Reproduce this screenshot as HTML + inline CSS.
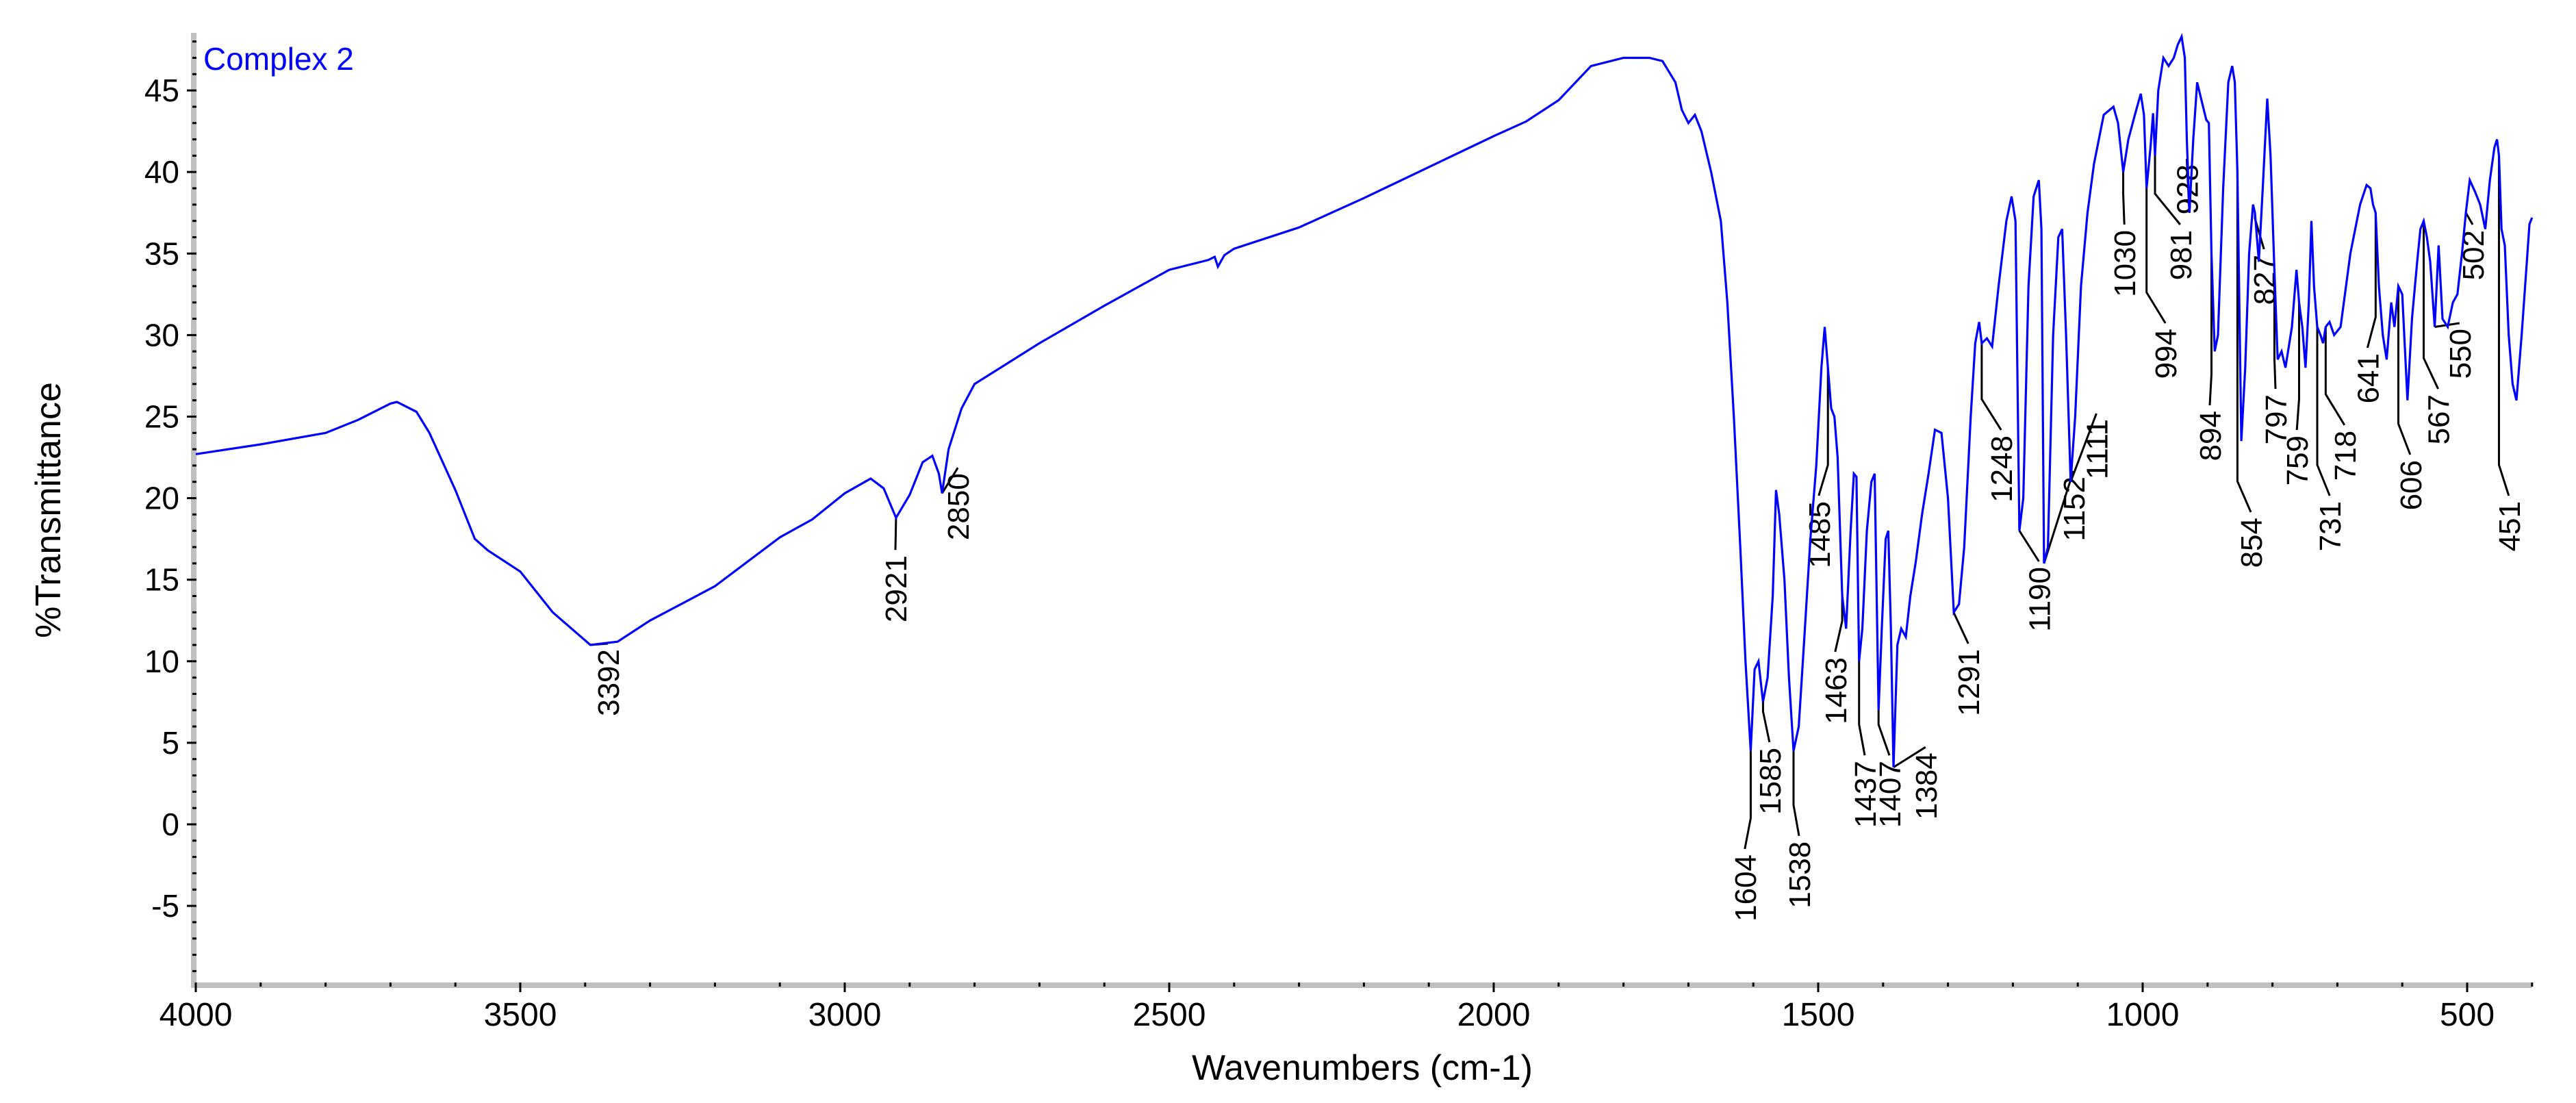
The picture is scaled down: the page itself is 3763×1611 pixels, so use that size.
<!DOCTYPE html>
<html><head><meta charset="utf-8"><style>
html,body{margin:0;padding:0;background:#fff;}
svg{display:block;font-family:"Liberation Sans",Arial,sans-serif;}
</style></head><body>
<svg id="chart" width="3763" height="1611" viewBox="0 0 3763 1611" xmlns="http://www.w3.org/2000/svg">
<rect x="0" y="0" width="3763" height="1611" fill="#fff"/>
<g id="axes"></g>
<g id="annot"></g>
<g id="series"></g>
<text x="297" y="102" font-size="46" fill="#0000ff">Complex 2</text>
<text x="1990" y="1577" font-size="52" text-anchor="middle">Wavenumbers (cm-1)</text>
<text transform="translate(88,745) rotate(-90)" font-size="52" text-anchor="middle">%Transmittance</text>
</svg>
<script>
const wavenumbers = [4000,3900,3800,3750,3700,3690,3660,3640,3600,3570,3550,3500,3450,3392,3350,3300,3200,3100,3050,3000,2960,2940,2921,2900,2880,2865,2855,2850,2840,2820,2800,2700,2600,2500,2440,2430,2425,2415,2400,2300,2200,2100,2000,1950,1900,1850,1800,1760,1740,1720,1710,1700,1690,1680,1665,1650,1640,1630,1620,1612,1604,1598,1592,1585,1578,1570,1565,1560,1552,1545,1538,1530,1522,1512,1503,1495,1490,1485,1480,1475,1470,1463,1457,1450,1445,1441,1437,1432,1425,1418,1413,1407,1402,1396,1392,1388,1384,1378,1372,1365,1358,1350,1340,1330,1320,1310,1300,1291,1283,1275,1265,1258,1252,1248,1240,1232,1222,1210,1202,1196,1190,1184,1176,1168,1160,1156,1152,1146,1138,1130,1124,1118,1111,1104,1095,1085,1075,1060,1045,1038,1030,1022,1012,1003,998,994,988,984,981,976,968,960,952,946,940,935,932,928,922,916,910,902,898,894,889,884,876,868,862,858,854,848,842,836,830,827,821,815,808,803,797,792,786,780,770,763,759,754,749,744,740,736,731,726,722,718,712,705,695,680,665,655,649,645,641,636,630,624,617,612,606,600,592,585,577,572,567,562,557,550,544,538,530,522,515,508,502,496,488,480,472,465,458,454,451,447,442,436,430,424,416,408,404,400];
const transmittance = [22.7,23.3,24.0,24.8,25.8,25.9,25.3,24.0,20.5,17.5,16.8,15.5,13.0,11.0,11.2,12.5,14.6,17.6,18.7,20.3,21.2,20.6,18.8,20.2,22.2,22.6,21.5,20.3,23.0,25.5,27.0,29.5,31.8,34.0,34.6,34.8,34.2,34.9,35.3,36.6,38.4,40.3,42.2,43.1,44.4,46.5,47.0,47.0,46.8,45.5,43.8,43.0,43.5,42.5,40.0,37.0,32.0,25.0,17.0,10.0,4.5,9.5,10.0,7.5,9.0,14.0,20.5,19.0,15.0,9.0,4.5,6.0,11.0,17.5,22.0,28.0,30.5,28.0,25.5,25.0,22.5,14.0,12.0,18.0,21.5,21.3,10.0,12.0,18.0,21.0,21.5,7.0,12.0,17.5,18.0,12.0,3.5,11.0,12.0,11.5,14.0,16.0,19.0,21.5,24.2,24.0,20.0,13.0,13.5,17.0,25.0,29.5,30.8,29.5,29.8,29.3,33.0,37.0,38.5,37.0,18.0,20.0,33.0,38.5,39.5,36.5,16.0,17.0,30.0,36.0,36.5,30.0,21.0,25.0,33.0,37.5,40.5,43.5,44.0,43.0,40.0,42.0,43.5,44.8,43.5,39.0,41.5,43.6,41.0,45.0,47.0,46.5,47.0,47.8,48.3,47.0,42.0,37.5,42.0,45.5,44.5,43.2,43.0,35.0,29.0,30.0,39.0,45.5,46.5,45.5,40.0,23.5,28.0,35.0,38.0,37.5,34.5,39.0,44.5,41.0,34.0,28.5,29.0,28.0,30.5,34.0,32.0,30.5,28.0,32.0,37.0,33.0,30.5,30.0,29.5,30.5,30.8,30.0,30.5,35.0,38.0,39.2,39.0,38.0,37.5,33.0,30.0,28.5,32.0,30.5,33.0,32.5,26.0,31.0,34.5,36.5,37.0,36.0,34.5,30.5,35.5,31.0,30.5,32.0,32.5,35.0,37.5,39.5,38.8,38.0,36.5,39.5,41.5,42.0,41.0,36.5,35.5,30.0,27.0,26.0,30.0,34.5,36.8,37.2,36.5,41.0,43.8,43.5,43.0];
const yTickLabels = ["-5","0","5","10","15","20","25","30","35","40","45"];
const xTickLabels = ["4000","3500","3000","2500","2000","1500","1000","500"];
const peakLabels = [3392,2921,2850,1604,1585,1538,1485,1463,1437,1407,1384,1291,1248,1190,1152,1111,1030,994,981,928,894,854,827,797,759,731,718,641,606,567,550,502,451];
// label layout (thumbnail coordinates x, text-top y) — layout only, not data
const labelLayout = [[370,395],[545,338],[583,288],[1062,520],[1077,455],[1095,512],[1107,305],[1117,400],[1135,463],[1150,463],[1172,458],[1198,395],[1218,265],[1241,345],[1262,290],[1276,255],[1293,140],[1318,200],[1327,140],[1331,100],[1345,250],[1370,315],[1378,155],[1385,240],[1398,265],[1418,305],[1427,262],[1441,215],[1467,280],[1484,240],[1497,200],[1505,140],[1527,305]];

const NS="http://www.w3.org/2000/svg";
const X0=286, XS=0.948, Y0=1204, YS=23.82;
function xPix(w){return X0+(4000-w)*XS;}
function yPix(v){return Y0-v*YS;}
function mk(tag,attrs,parent){const e=document.createElementNS(NS,tag);for(const k in attrs)e.setAttribute(k,attrs[k]);parent.appendChild(e);return e;}
function valAt(w){for(let i=0;i<wavenumbers.length-1;i++){const a=wavenumbers[i],b=wavenumbers[i+1];if(w<=a&&w>=b){const t=(a-w)/(a-b);return transmittance[i]+t*(transmittance[i+1]-transmittance[i]);}}return transmittance[transmittance.length-1];}

const axes=document.getElementById('axes');
const yAxis=mk('rect',{x:279,y:48,width:8,height:1395,fill:'#c0c0c0'},axes);


const xAxis=mk('rect',{x:279,y:1435,width:3420,height:8,fill:'#c0c0c0'},axes);


for(let v=-9;v<=48;v++){
  const y=yPix(v);const major=(v%5===0);
  const t=mk('line',{x1:major?273:281,x2:287,y1:y,y2:y,stroke:'#000','stroke-width':3},axes);
  
  
}
yTickLabels.forEach(s=>{
  const t=mk('text',{x:262,y:yPix(+s)+16,'font-size':46,'text-anchor':'end'},axes);
  t.textContent=s;
  
  
});
for(let w=4000;w>=400;w-=100){
  const x=xPix(w);const major=(w%500===0);
  const t=mk('line',{x1:x,x2:x,y1:1435,y2:major?1449:1441,stroke:'#000','stroke-width':3},axes);
  
  
}
xTickLabels.forEach(s=>{
  const t=mk('text',{x:xPix(+s),y:1498,'font-size':48,'text-anchor':'middle'},axes);
  t.textContent=s;
  
  
});

const series=document.getElementById('series');
const pts=wavenumbers.map((w,i)=>xPix(w).toFixed(1)+','+yPix(transmittance[i]).toFixed(1)).join(' ');
const line=mk('polyline',{points:pts,fill:'none',stroke:'#0000ff','stroke-width':3.2,'stroke-linejoin':'miter'},series);



const annot=document.getElementById('annot');
peakLabels.forEach((w,i)=>{
  const px=xPix(w), cy=yPix(valAt(w));
  const lx=labelLayout[i][0]*2.4, top=labelLayout[i][1]*2.4;
  const lineEnd=top-8;
  const mid=Math.max(cy,lineEnd-45);
  const g=mk('g',{},annot);
  
  
  mk('polyline',{points:`${px},${cy} ${px},${mid} ${lx},${lineEnd}`,fill:'none',stroke:'#000','stroke-width':3},g);
  const t=mk('text',{transform:`translate(${lx+16},${top}) rotate(-90)`,'font-size':44,'text-anchor':'end'},g);
  t.textContent=String(w);
});
</script>
</body></html>
